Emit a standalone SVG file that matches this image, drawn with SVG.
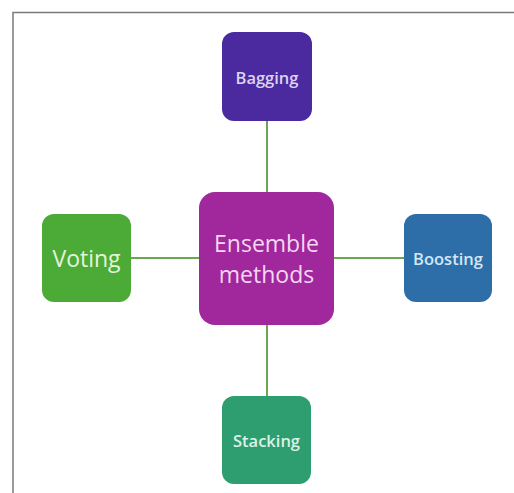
<svg xmlns="http://www.w3.org/2000/svg" width="514" height="493" viewBox="0 0 514 493">
<style>
.t{font-family:"Open Sans","Noto Sans","Liberation Sans",sans-serif;text-anchor:middle;dominant-baseline:central}
.s{font-size:16.5px;font-weight:600}
.l{font-size:23px}
.c{stroke:#6aa84f;stroke-width:2;fill:none}
</style>
<rect width="514" height="493" fill="#fff"/>
<path d="M13 493 V12.5 H514" fill="none" stroke="#7a7a7a" stroke-width="1.5"/>
<g id="connectors">
<line class="c" x1="267" y1="121" x2="267" y2="192"/>
<line class="c" x1="267" y1="325" x2="267" y2="396"/>
<line class="c" x1="131" y1="258" x2="199" y2="258"/>
<line class="c" x1="334" y1="258" x2="404" y2="258"/>
</g>
<g id="bagging">
<rect x="222" y="32" width="90" height="89" rx="12" fill="#4b2aa0"/>
<text class="t s" x="267" y="77" fill="#ddd3f2">Bagging</text>
</g>
<g id="ensemble">
<rect x="199" y="192" width="135" height="133" rx="16" fill="#a0289c"/>
<text class="t l" x="266.5" y="243" fill="#f6d6f2">Ensemble</text>
<text class="t l" x="266.5" y="274" fill="#f6d6f2">methods</text>
</g>
<g id="voting">
<rect x="42" y="214" width="89" height="88" rx="12" fill="#4caa36"/>
<text class="t l" x="86.5" y="258" fill="#e4f4dc">Voting</text>
</g>
<g id="boosting">
<rect x="404" y="214" width="88" height="88" rx="12" fill="#2e6ea8"/>
<text class="t s" x="448" y="258" fill="#d4e6f6">Boosting</text>
</g>
<g id="stacking">
<rect x="222" y="396" width="89" height="88" rx="12" fill="#2e9e70"/>
<text class="t s" x="266.5" y="440" fill="#dcf2e6">Stacking</text>
</g>
</svg>
